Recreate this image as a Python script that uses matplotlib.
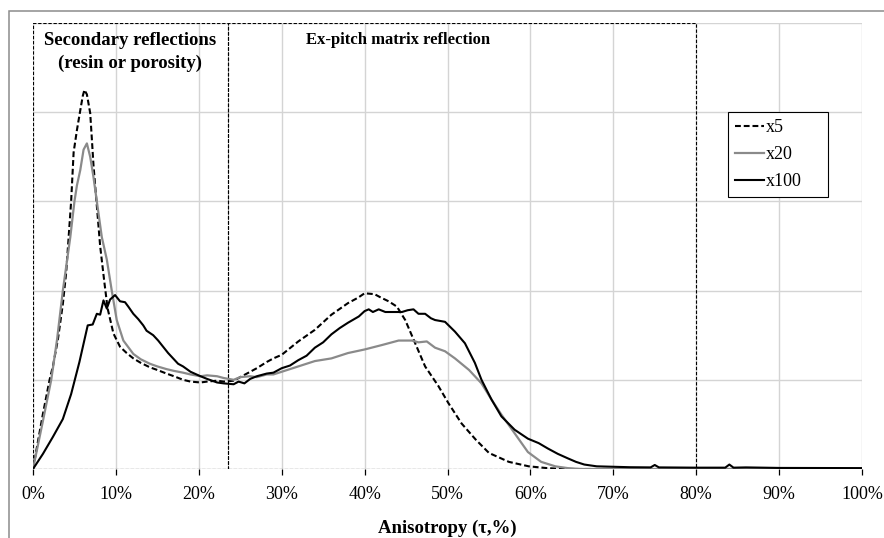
import matplotlib
matplotlib.use('Agg')
from matplotlib import pyplot as plt
from matplotlib.patches import Rectangle

plt.rcParams['font.family'] = ['Liberation Serif', 'DejaVu Serif']

# anisotropy distribution, x in %, y in grid units
x5_tau = [0, 1.2, 2.0, 2.4, 3.0, 3.6, 4.0, 4.3, 4.6, 4.9, 5.3, 5.7, 6.0, 6.2, 6.5, 6.9,
          7.1, 7.3, 7.7, 8.1, 8.6, 9.0, 9.7, 10.5, 11.3, 12.1, 13.0, 14.1, 15.0, 16.1,
          17.0, 18.1, 19.0, 20.2, 21.0, 22.2, 23.0, 24.2, 25.0, 26.2, 27.0, 28.2, 29.0,
          30.0, 32.0, 34.0, 36.0, 38.0, 39.2, 40.0, 41.2, 42.0, 42.9, 43.9, 44.9, 46.1,
          47.3, 48.9, 50.1, 51.7, 53.4, 55.0, 57.4, 59.8, 62.0, 64.0, 100.0]
x5_val = [0, 0.62, 1.0, 1.15, 1.45, 1.85, 2.2, 2.6, 3.0, 3.55, 3.8, 4.02, 4.18, 4.25, 4.2, 3.99,
          3.7, 3.4, 2.95, 2.5, 2.1, 1.8, 1.52, 1.37, 1.3, 1.24, 1.19, 1.14, 1.11, 1.07,
          1.04, 1.0, 0.98, 0.97, 0.98, 0.99, 0.98, 0.99, 1.03, 1.09, 1.13, 1.2, 1.24,
          1.28, 1.43, 1.56, 1.73, 1.86, 1.92, 1.97, 1.96, 1.92, 1.88, 1.82, 1.67, 1.41,
          1.15, 0.93, 0.74, 0.51, 0.33, 0.18, 0.08, 0.03, 0.01, 0.0, 0.0]

x20_tau = [0, 1.2, 2.2, 2.9, 3.6, 4.5, 5.0, 5.3, 5.7, 6.1, 6.5, 6.9, 7.3, 7.7, 8.3, 8.9,
           9.5, 10.1, 10.9, 12.1, 13.0, 14.1, 15.0, 16.1, 17.0, 18.1, 19.0, 20.2, 21.0,
           22.2, 23.0, 24.2, 25.0, 26.2, 27.0, 28.2, 29.0, 30.0, 32.0, 34.0, 36.0, 38.0,
           40.0, 42.1, 44.1, 45.7, 46.5, 47.5, 48.5, 49.7, 50.9, 52.6, 54.1, 55.3, 56.5,
           58.1, 59.7, 61.3, 63.0, 64.5, 66.0, 100.0]
x20_val = [0, 0.54, 1.0, 1.45, 2.0, 2.6, 3.0, 3.18, 3.35, 3.58, 3.65, 3.5, 3.27, 3.0, 2.6, 2.35,
           2.0, 1.67, 1.44, 1.29, 1.23, 1.18, 1.15, 1.12, 1.10, 1.08, 1.06, 1.04, 1.05,
           1.04, 1.02, 1.0, 1.03, 1.04, 1.03, 1.06, 1.06, 1.09, 1.15, 1.21, 1.24, 1.30,
           1.34, 1.39, 1.44, 1.44, 1.42, 1.43, 1.36, 1.32, 1.24, 1.11, 0.96, 0.78, 0.61,
           0.40, 0.19, 0.08, 0.03, 0.01, 0.0, 0.0]

x100_tau = [0, 1.2, 2.4, 3.6, 4.6, 5.6, 6.6, 7.2, 7.7, 8.1, 8.5, 8.9, 9.3, 9.9, 10.5, 11.1,
            11.5, 12.1, 12.7, 13.3, 13.7, 14.5, 15.1, 15.7, 16.3, 16.9, 17.5, 18.1, 19.0,
            20.2, 21.0, 22.2, 23.0, 24.2, 24.8, 25.5, 26.2, 27.0, 28.2, 29.0, 30.0, 31.0,
            32.0, 33.0, 34.0, 35.0, 36.0, 37.0, 38.0, 39.3, 40.0, 40.5, 41.0, 41.7, 42.5,
            43.3, 44.5, 45.2, 45.9, 46.5, 47.3, 48.0, 48.5, 49.7, 50.9, 52.1, 53.3, 54.1,
            55.3, 56.5, 58.1, 59.7, 61.0, 62.1, 63.3, 64.5, 65.5, 66.5, 68.0, 70.0, 72.0,
            74.5, 75.0, 75.5, 80.0, 83.5, 84.0, 84.5, 86.0, 90.0, 100.0]
x100_val = [0, 0.17, 0.36, 0.56, 0.84, 1.2, 1.61, 1.62, 1.74, 1.73, 1.89, 1.80, 1.90, 1.95, 1.88, 1.87,
            1.82, 1.74, 1.68, 1.61, 1.55, 1.50, 1.44, 1.37, 1.30, 1.24, 1.18, 1.15, 1.09,
            1.04, 1.01, 0.97, 0.96, 0.95, 0.98, 0.96, 1.01, 1.04, 1.07, 1.08, 1.13, 1.16,
            1.22, 1.27, 1.36, 1.42, 1.51, 1.58, 1.64, 1.71, 1.77, 1.79, 1.76, 1.79, 1.76,
            1.76, 1.76, 1.78, 1.79, 1.74, 1.74, 1.69, 1.67, 1.65, 1.54, 1.41, 1.19, 1.0,
            0.78, 0.59, 0.44, 0.34, 0.29, 0.23, 0.17, 0.12, 0.08, 0.05, 0.03, 0.025, 0.02,
            0.018, 0.045, 0.018, 0.015, 0.015, 0.05, 0.015, 0.018, 0.012, 0.01]

xtick_pos = [0, 10, 20, 30, 40, 50, 60, 70, 80, 90, 100]
xtick_labels = ['0%', '10%', '20%', '30%', '40%', '50%', '60%', '70%', '80%', '90%', '100%']

# region boundaries (%)
region_edges = [0, 23.5, 80]

fig = plt.figure(figsize=(8.84, 5.38), dpi=100)
ax = fig.add_axes([33 / 884, 1 - 469 / 538, 829 / 884, 446 / 538])

# outer chart frame
fig.add_artist(Rectangle((9 / 884, -0.2), 1.2, 1.2 - 11 / 538, transform=fig.transFigure,
                         fill=False, edgecolor='#8c8c8c', lw=1.1))

ax.plot(x5_tau, x5_val, color='k', lw=1.5, linestyle=(0, (2.8, 1.4)), label='x5', zorder=3)
ax.plot(x20_tau, x20_val, color='#8a8a8a', lw=1.6, label='x20', zorder=4)
ax.plot(x100_tau, x100_val, color='k', lw=1.5, label='x100', zorder=5)

# dashed region boxes
for a, b in zip(region_edges[:-1], region_edges[1:]):
    ax.add_patch(Rectangle((a, 0), b - a, 5, fill=False, edgecolor='k', lw=0.8,
                           linestyle=(0, (3, 1.6)), zorder=2))

ax.text(11.75, 4.80, 'Secondary reflections', ha='center', va='center',
        fontsize=13.5, fontweight='bold')
ax.text(11.75, 4.55, '(resin or porosity)', ha='center', va='center',
        fontsize=13.5, fontweight='bold')
ax.text(44.0, 4.81, 'Ex-pitch matrix reflection', ha='center', va='center',
        fontsize=12, fontweight='bold')

ax.set_xlim(0, 100)
ax.set_ylim(0, 5)
ax.set_xticks(xtick_pos)
ax.set_xticklabels(xtick_labels, fontsize=13)
ax.set_yticks([0, 1, 2, 3, 4, 5])
ax.tick_params(axis='y', left=False, labelleft=False)
ax.tick_params(axis='x', direction='out', length=4.5, width=0.9, color='k', pad=8)
ax.grid(True, color='#d4d4d4', lw=1.0, zorder=0)
ax.set_axisbelow(True)
for s in ax.spines.values():
    s.set_visible(False)
ax.set_xlabel('Anisotropy (τ,%)', fontsize=13.5, fontweight='bold', labelpad=12)

leg = ax.legend(loc='upper left', bbox_to_anchor=(0.838, 0.0, 0.1206, 0.801),
                mode='expand', borderaxespad=0,
                fontsize=13, frameon=True, fancybox=False, framealpha=1,
                edgecolor='k', handlelength=1.6, handletextpad=0.1,
                labelspacing=0.55, borderpad=0.4)
leg.get_frame().set_linewidth(0.8)

plt.savefig('out.png', dpi=100)
